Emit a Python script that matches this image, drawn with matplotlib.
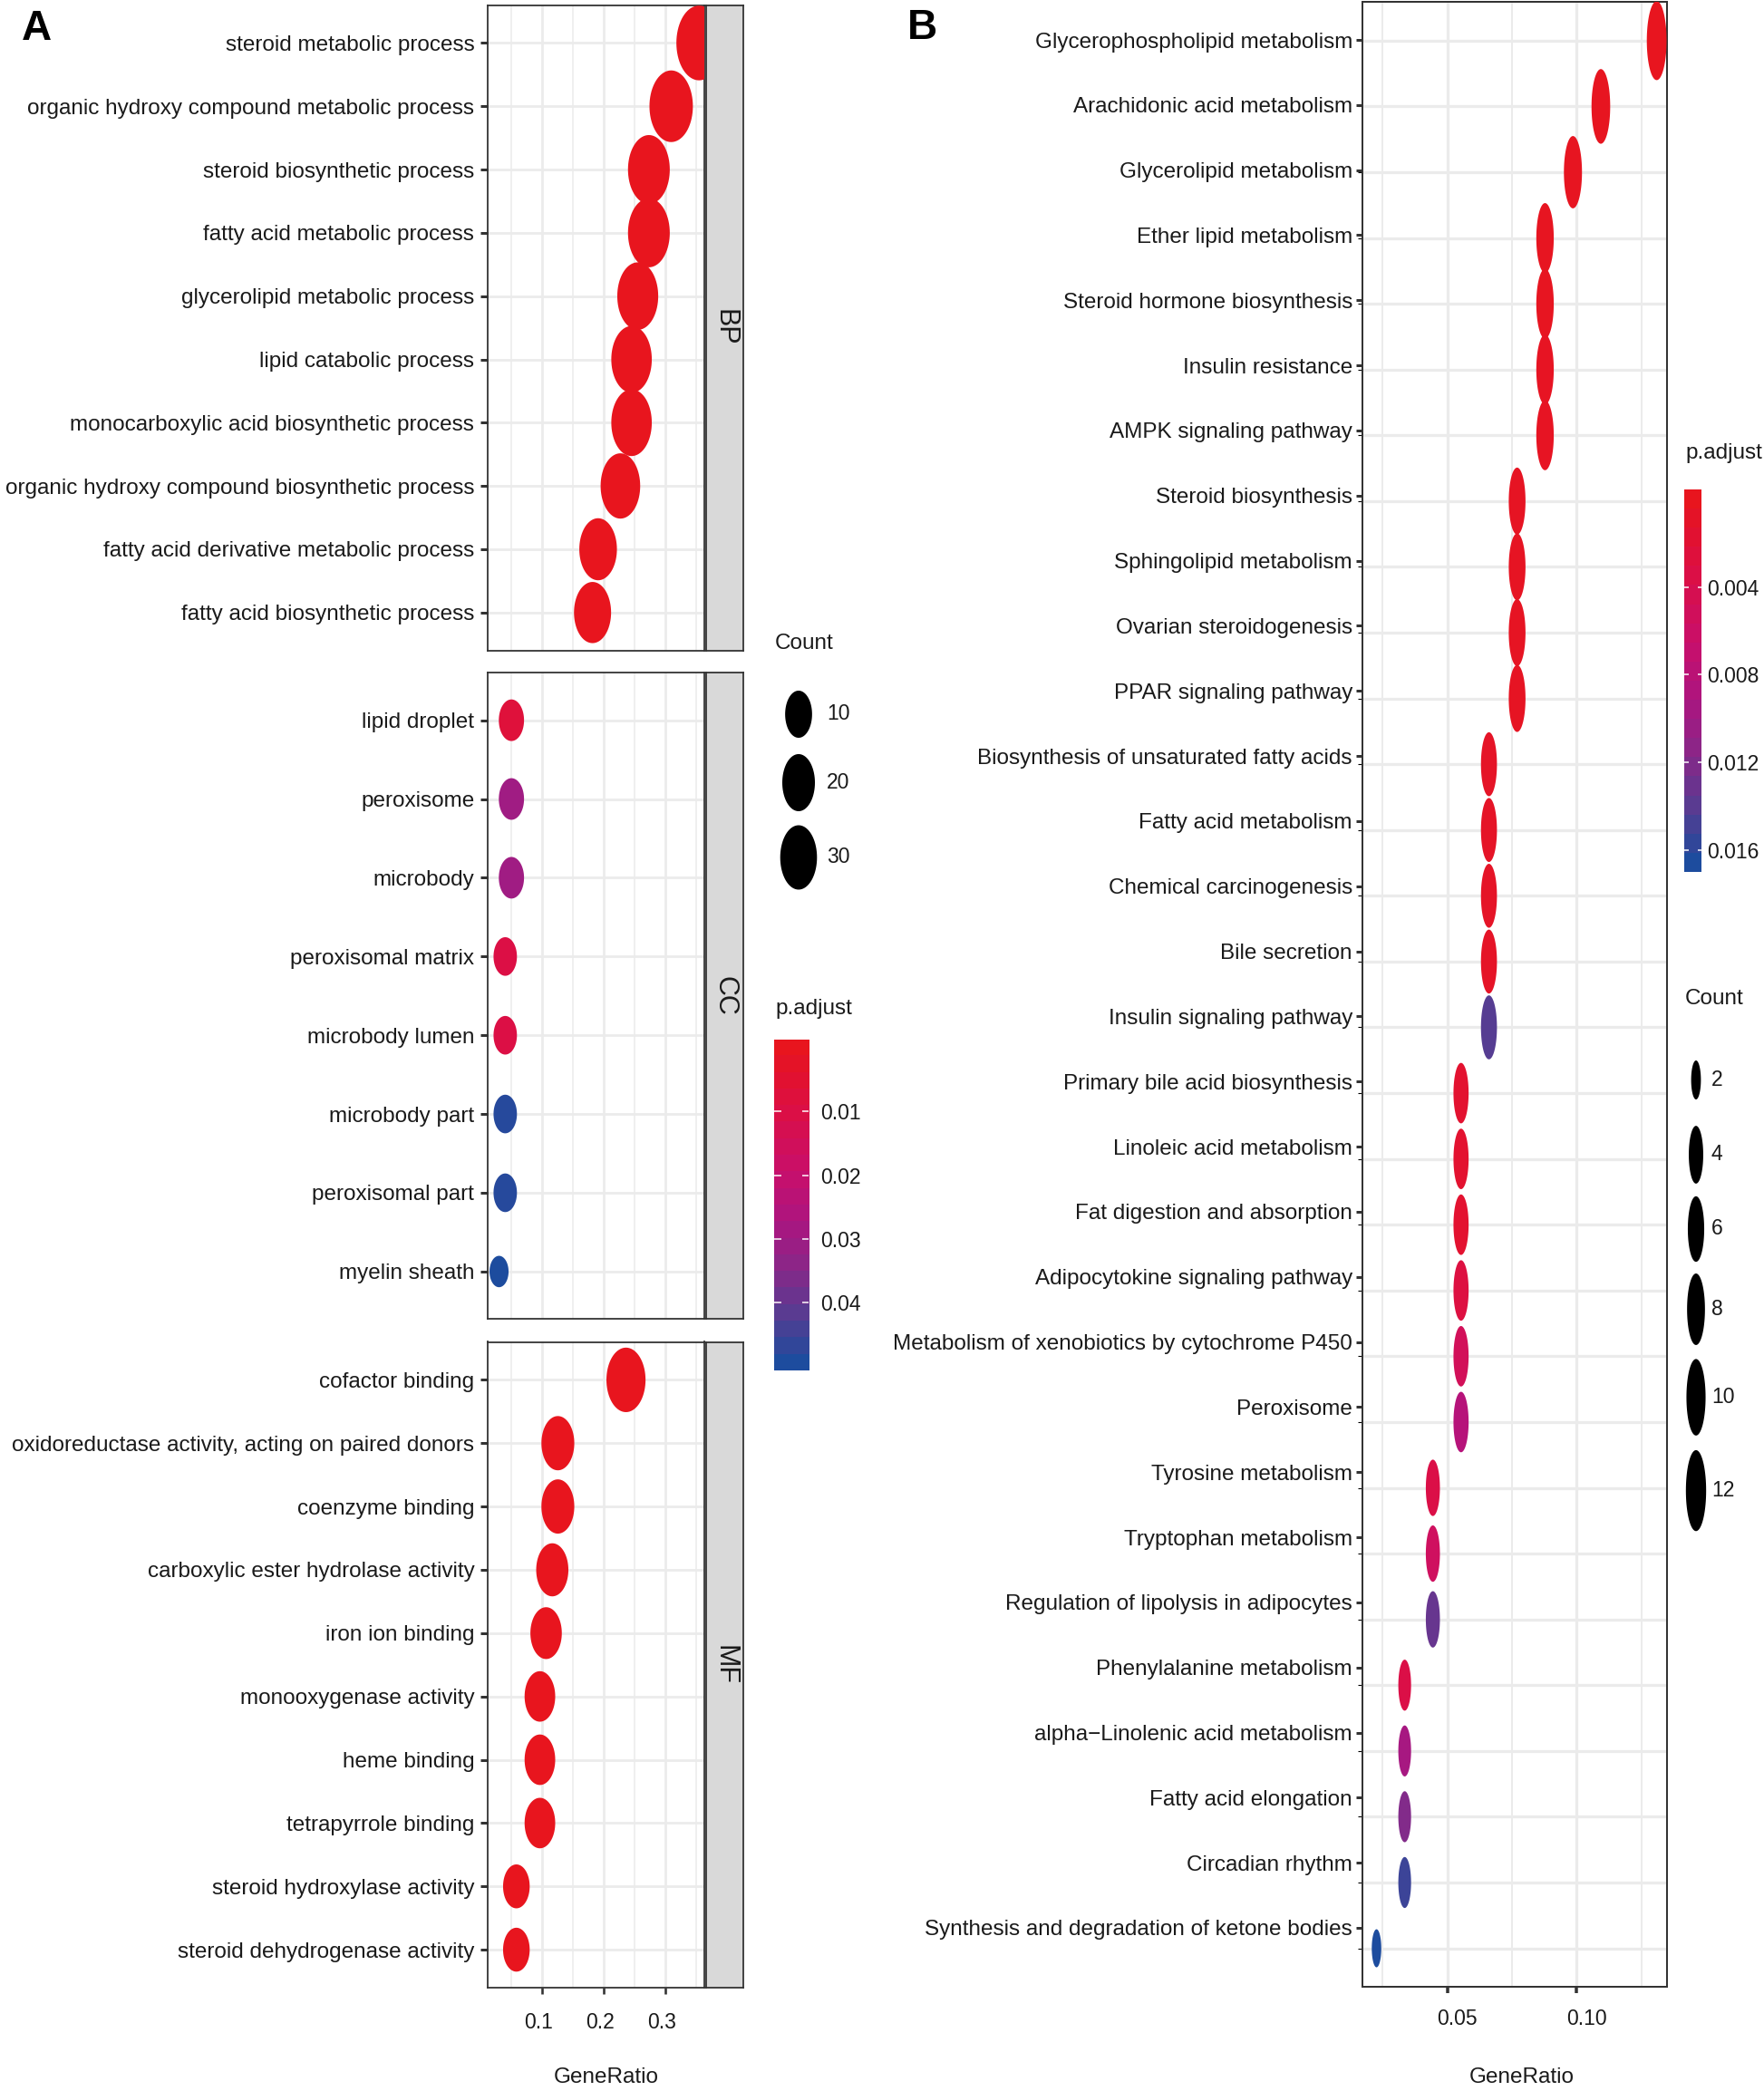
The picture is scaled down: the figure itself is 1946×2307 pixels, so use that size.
import numpy as np
import matplotlib
matplotlib.use("Agg")
import matplotlib.pyplot as plt
from matplotlib.path import Path
from matplotlib.markers import MarkerStyle
from matplotlib.colors import LinearSegmentedColormap, Normalize
from matplotlib.transforms import ScaledTranslation

plt.rcParams['font.family'] = ['Liberation Sans', 'DejaVu Sans']

# ---------------- data ----------------
bp_terms = ["steroid metabolic process", "organic hydroxy compound metabolic process",
            "steroid biosynthetic process", "fatty acid metabolic process",
            "glycerolipid metabolic process", "lipid catabolic process",
            "monocarboxylic acid biosynthetic process", "organic hydroxy compound biosynthetic process",
            "fatty acid derivative metabolic process", "fatty acid biosynthetic process"]
bp_ratio = [0.354, 0.309, 0.273, 0.273, 0.255, 0.245, 0.245, 0.227, 0.191, 0.182]
bp_count = [39, 34, 30, 30, 28, 27, 27, 25, 21, 20]
bp_padj = [1e-12, 1e-11, 1e-10, 1e-10, 1e-9, 1e-8, 1e-8, 1e-7, 1e-6, 1e-6]

cc_terms = ["lipid droplet", "peroxisome", "microbody", "peroxisomal matrix", "microbody lumen",
            "microbody part", "peroxisomal part", "myelin sheath"]
cc_ratio = [0.051, 0.051, 0.051, 0.041, 0.041, 0.041, 0.041, 0.031]
cc_count = [5, 5, 5, 4, 4, 4, 4, 3]
cc_padj = [0.0075, 0.0300, 0.0300, 0.0100, 0.0100, 0.0480, 0.0480, 0.0493]

mf_terms = ["cofactor binding", "oxidoreductase activity, acting on paired donors", "coenzyme binding",
            "carboxylic ester hydrolase activity", "iron ion binding", "monooxygenase activity",
            "heme binding", "tetrapyrrole binding", "steroid hydroxylase activity",
            "steroid dehydrogenase activity"]
mf_ratio = [0.236, 0.126, 0.126, 0.117, 0.107, 0.097, 0.097, 0.097, 0.059, 0.059]
mf_count = [24, 13, 13, 12, 11, 10, 10, 10, 6, 6]
mf_padj = [1e-8, 1e-5, 1e-5, 1e-5, 1e-5, 1e-5, 1e-5, 1e-5, 1e-4, 1e-4]

kegg_terms = ["Glycerophospholipid metabolism", "Arachidonic acid metabolism", "Glycerolipid metabolism",
              "Ether lipid metabolism", "Steroid hormone biosynthesis", "Insulin resistance",
              "AMPK signaling pathway", "Steroid biosynthesis", "Sphingolipid metabolism",
              "Ovarian steroidogenesis", "PPAR signaling pathway",
              "Biosynthesis of unsaturated fatty acids", "Fatty acid metabolism",
              "Chemical carcinogenesis", "Bile secretion", "Insulin signaling pathway",
              "Primary bile acid biosynthesis", "Linoleic acid metabolism",
              "Fat digestion and absorption", "Adipocytokine signaling pathway",
              "Metabolism of xenobiotics by cytochrome P450", "Peroxisome",
              "Tyrosine metabolism", "Tryptophan metabolism", "Regulation of lipolysis in adipocytes",
              "Phenylalanine metabolism", "alpha\u2212Linolenic acid metabolism",
              "Fatty acid elongation", "Circadian rhythm",
              "Synthesis and degradation of ketone bodies"]
kegg_ratio = [0.1310, 0.1094, 0.0986, 0.0878, 0.0878, 0.0878, 0.0878, 0.0770, 0.0770, 0.0770,
              0.0770, 0.0661, 0.0661, 0.0661, 0.0661, 0.0661, 0.0553, 0.0553, 0.0553, 0.0553,
              0.0553, 0.0553, 0.0444, 0.0444, 0.0444, 0.0335, 0.0335, 0.0335, 0.0335, 0.0226]
kegg_count = [12, 10, 9, 8, 8, 8, 8, 7, 7, 7, 7, 6, 6, 6, 6, 6, 5, 5, 5, 5, 5, 5, 4, 4, 4, 3, 3, 3, 3, 2]
kegg_padj = [0.0001, 0.0002, 0.0003, 0.0003, 0.0003, 0.0004, 0.0004, 0.0005, 0.0005, 0.0005,
             0.0005, 0.0008, 0.0008, 0.0008, 0.0008, 0.0141, 0.0015, 0.0015, 0.0015, 0.0030,
             0.0050, 0.0083, 0.0035, 0.0055, 0.0133, 0.0035, 0.0095, 0.0120, 0.0152, 0.01654]

countA_breaks = [10, 20, 30]
countB_breaks = [2, 4, 6, 8, 10, 12]
padjA_ticks = [0.01, 0.02, 0.03, 0.04]
padjB_ticks = [0.004, 0.008, 0.012, 0.016]

# ---------------- setup ----------------
W, H = 1946, 2307
DPI = 100
PX = 72.0 / DPI
fig = plt.figure(figsize=(W / DPI, H / DPI), dpi=DPI)
fig.patch.set_facecolor("white")


def rect(x0, y0, x1, y1):
    return [x0 / W, 1 - y1 / H, (x1 - x0) / W, (y1 - y0) / H]


cmap = LinearSegmentedColormap.from_list(
    "padj", [(0.0, "#E8151E"), (0.2, "#DC0F45"), (0.4, "#C8106C"), (0.55, "#AD1580"),
             (0.7, "#8A2788"), (0.85, "#583C92"), (1.0, "#1D4C9E")])
normA = Normalize(0.0, 0.0493)
normB = Normalize(0.0, 0.01654)


def ellipse_marker(aspect):
    t = np.linspace(0, 2 * np.pi, 73)
    verts = np.column_stack([np.cos(t) / aspect, np.sin(t)])
    return MarkerStyle(Path(verts, closed=True))


ASPECT_A = 1.65
ASPECT_B = 4.0
markerA = ellipse_marker(ASPECT_A)
markerA_leg = ellipse_marker(1.75)
markerB = ellipse_marker(ASPECT_B)

allA = bp_count + cc_count + mf_count
cminA, cmaxA = min(allA), max(allA)
cminB, cmaxB = min(kegg_count), max(kegg_count)


def widthA(c):
    return 21 + (50 - 21) * np.sqrt((np.asarray(c, float) - cminA) / (cmaxA - cminA))


def widthB(c):
    return 10.5 + (21.8 - 10.5) * np.sqrt((np.asarray(c, float) - cminB) / (cmaxB - cminB))


GRID = "#EBEBEB"
DARK = "#333333"
TXT = "#1A1A1A"
FS_LAB = 17.5
FS_TICK = 16.5


def shift_labels(labels, dx_px, dy_px=0):
    for lab in labels:
        lab.set_transform(lab.get_transform() + ScaledTranslation(dx_px / DPI, -dy_px / DPI, fig.dpi_scale_trans))


# ---------------- Panel A ----------------
panels = [
    (5.5, 717.7, bp_terms, bp_ratio, bp_count, bp_padj, "BP", False),
    (742.5, 1455.0, cc_terms, cc_ratio, cc_count, cc_padj, "CC", False),
    (1480.5, 2193.0, mf_terms, mf_ratio, mf_count, mf_padj, "MF", True),
]
for (y0, y1, terms, ratio, count, padj, lab, show_x) in panels:
    ax = fig.add_axes(rect(538.3, y0, 776.7, y1))
    n = len(terms)
    yy = np.arange(n)
    s = (widthA(count) * ASPECT_A * PX) ** 2
    ax.scatter(ratio, yy, s=s, c=padj, cmap=cmap, norm=normA, marker=markerA,
               linewidths=0, zorder=3)
    ax.set_xlim(0.0131, 0.3621)
    ax.set_ylim(n - 1 + 0.6, -0.6)
    ax.set_xticks([0.1, 0.2, 0.3])
    ax.set_xticks([0.05, 0.15, 0.25, 0.35], minor=True)
    ax.set_xticklabels(["0.1", "0.2", "0.3"])
    ax.set_yticks(yy)
    ax.set_yticklabels(terms)
    ax.set_axisbelow(True)
    ax.grid(which="major", color=GRID, lw=2.7 * PX)
    ax.grid(which="minor", axis="x", color=GRID, lw=1.5 * PX)
    ax.tick_params(axis="y", length=8 * PX, width=3.0 * PX, color=DARK, pad=7 * PX,
                   labelsize=FS_LAB, labelcolor=TXT)
    ax.tick_params(axis="x", which="minor", length=0)
    if show_x:
        ax.tick_params(axis="x", which="major", length=7 * PX, width=2.6 * PX, color=DARK,
                       pad=14.5, labelsize=FS_TICK, labelcolor=TXT)
        shift_labels(ax.get_xticklabels(), -4)
    else:
        ax.tick_params(axis="x", which="both", bottom=False, labelbottom=False)
    for sp in ax.spines.values():
        sp.set_color(DARK)
        sp.set_linewidth(1.8 * PX)

    sax = fig.add_axes(rect(778.8, y0, 820.0, y1))
    sax.set_facecolor("#D9D9D9")
    sax.set_xticks([])
    sax.set_yticks([])
    for sp in sax.spines.values():
        sp.set_color(DARK)
        sp.set_linewidth(1.8 * PX)
    sax.text(0.5, 0.5, lab, rotation=-90, ha="center", va="center", fontsize=22,
             color=TXT, transform=sax.transAxes)

# ---------------- Panel B ----------------
axB = fig.add_axes(rect(1502.7, 2.0, 1839.3, 2192.0))
nB = len(kegg_terms)
yB = np.arange(nB)
sB = (widthB(kegg_count) * ASPECT_B * PX) ** 2
axB.scatter(kegg_ratio, yB, s=sB, c=kegg_padj, cmap=cmap, norm=normB, marker=markerB,
            linewidths=0, zorder=3)
axB.set_xlim(0.01704, 0.1351)
axB.set_ylim(nB - 1 + 0.585, -0.59)
axB.set_xticks([0.05, 0.10])
axB.set_xticklabels(["0.05", "0.10"])
axB.set_xticks([0.025, 0.075, 0.125], minor=True)
axB.set_yticks(yB)
axB.set_axisbelow(True)
axB.grid(which="major", color=GRID, lw=3.3 * PX)
axB.grid(which="minor", axis="x", color=GRID, lw=2.0 * PX)
axB.tick_params(axis="y", left=False, labelleft=False)
axB.tick_params(axis="x", which="minor", length=0)
axB.tick_params(axis="x", which="major", length=7 * PX, width=3.5 * PX, color=DARK,
                pad=12.5, labelsize=FS_TICK, labelcolor=TXT)
shift_labels(axB.get_xticklabels(), 11)
for sp in axB.spines.values():
    sp.set_color(DARK)
    sp.set_linewidth(2.0 * PX)

axL = axB.twinx()
axL.set_ylim(nB - 1 + 0.905, -0.585)
axL.yaxis.tick_left()
axL.set_yticks(yB)
axL.set_yticklabels(kegg_terms)
axL.tick_params(axis="y", length=7 * PX, width=3.0 * PX, color=DARK, pad=3.7 * PX,
                labelsize=FS_LAB, labelcolor=TXT, right=False, labelright=False)
for sp in axL.spines.values():
    sp.set_visible(False)


# ---------------- Colorbars ----------------
def colorbar(x0, y0, x1, y1, norm, ticks, ticklen, pad_px):
    cax = fig.add_axes(rect(x0, y0, x1, y1))
    vmin, vmax = norm.vmin, norm.vmax
    nbin = 20
    vals = np.linspace(vmin, vmax, nbin)
    d = (vmax - vmin) / (nbin - 1)
    cax.imshow(vals.reshape(-1, 1), cmap=cmap, norm=norm, aspect="auto",
               extent=(0, 1, vmax + d / 2, vmin - d / 2), origin="upper", interpolation="nearest")
    cax.set_xlim(0, 1)
    cax.set_ylim(vmax + d / 2, vmin - d / 2)
    cax.set_xticks([])
    cax.set_yticks(ticks)
    cax.set_yticklabels([f"{t:g}" for t in ticks])
    cax.tick_params(axis="y", direction="in", left=True, right=True, labelleft=False,
                    labelright=True, color="white", length=ticklen * PX, width=1.5 * PX,
                    pad=pad_px * PX, labelsize=FS_TICK, labelcolor=TXT)
    for sp in cax.spines.values():
        sp.set_visible(False)
    return cax


colorbar(854.0, 1146.7, 892.3, 1512.0, normA, padjA_ticks, 7.5, 12.7)
colorbar(1858.3, 540.0, 1877.3, 962.0, normB, padjB_ticks, 4.5, 6.0)

# ---------------- Overlay: legends, titles, letters ----------------
ov = fig.add_axes([0, 0, 1, 1])
ov.set_xlim(0, W)
ov.set_ylim(H, 0)
ov.axis("off")
ov.patch.set_visible(False)

ov.text(40, 32, "A", fontsize=33, fontweight="bold", ha="center", va="center", color="black")
ov.text(1017, 31, "B", fontsize=33, fontweight="bold", ha="center", va="center", color="black")

ov.text(669, 2292, "GeneRatio", fontsize=FS_LAB, ha="center", va="center", color=TXT)
ov.text(1679, 2292, "GeneRatio", fontsize=FS_LAB, ha="center", va="center", color=TXT)

# legend A: Count
ov.text(855, 710.5, "Count", fontsize=FS_LAB, ha="left", va="center", color=TXT)
legA_y = [788, 863.5, 946]
wA = widthA(countA_breaks) * 0.88
ov.scatter([881] * 3, legA_y, s=(wA * 1.75 * PX) ** 2, c="black", marker=markerA_leg,
           linewidths=0, clip_on=False)
for yv, c in zip(legA_y, countA_breaks):
    ov.text(912, yv, str(c), fontsize=FS_TICK, ha="left", va="center", color=TXT)
ov.text(855, 1113, "p.adjust", fontsize=FS_LAB, ha="left", va="center", color=TXT)

# legend B
ov.text(1859, 500, "p.adjust", fontsize=FS_LAB, ha="left", va="center", color=TXT)
ov.text(1859, 1102, "Count", fontsize=FS_LAB, ha="left", va="center", color=TXT)
legB_y = [1191.5, 1274, 1356, 1444.5, 1541.6, 1644.6]
wB = widthB(countB_breaks)
ov.scatter([1871] * len(legB_y), legB_y, s=(wB * 4.1 * PX) ** 2, c="black", marker=markerB,
           linewidths=0, clip_on=False)
for yv, c in zip(legB_y, countB_breaks):
    ov.text(1888, yv, str(c), fontsize=FS_TICK, ha="left", va="center", color=TXT)

fig.savefig("out.png", dpi=DPI, facecolor="white")
